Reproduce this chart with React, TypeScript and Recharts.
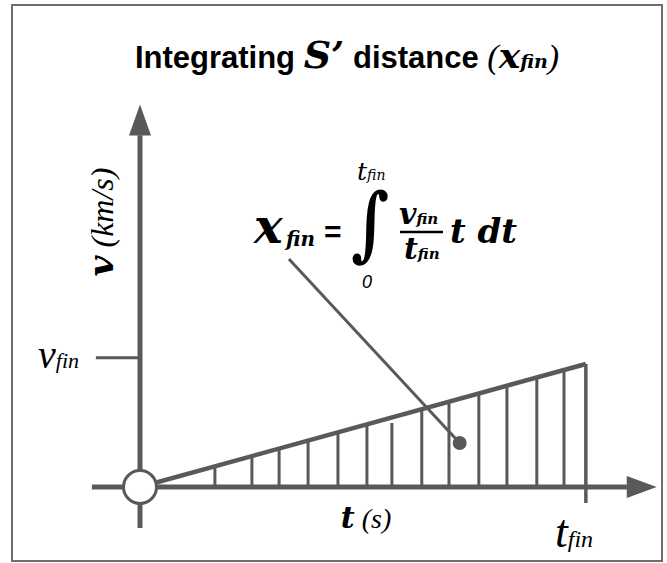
import React from 'react';
import { ComposedChart, Line, XAxis, YAxis, ReferenceLine, ReferenceDot } from 'recharts';

// Diagram values (t in units with t_fin = 10, v in units with v_fin = 10)
const hypotenuse = [
  { t: 0, v: 0 },
  { t: 10, v: 10 },
];
const hatchT = [1.68, 2.51, 3.12, 3.77, 4.44, 5.09, 5.65, 6.32, 6.93, 7.6, 8.23, 8.9, 9.51];
const hatchTop = [1.68, 2.51, 3.12, 3.77, 4.44, 5.09, 5.2, 6.32, 6.93, 7.6, 8.23, 8.9, 9.51];
const tFin = 10;
const vFin = 10;
const vFinTick = 10.5;
const xAxisRange = [-1.08, 10.92];
const xArrowTip = 11.59;
const yAxisRange = [-3.33, 28.6];
const yArrowTip = 31.1;
const tFinTickBottom = -1.3;
const vFinTickStart = -0.99;
const leaderStart = { t: 3.34, v: 18.54 };
const leaderEnd = { t: 7.17, v: 3.58 };

const C = '#595959';
const W = 667;
const H = 563;

const ArrowRight = (props: any) => {
  const { cx, cy } = props;
  return <polygon points={`${cx},${cy} ${cx - 30},${cy - 11} ${cx - 30},${cy + 11}`} fill={C} />;
};
const ArrowUp = (props: any) => {
  const { cx, cy } = props;
  return <polygon points={`${cx},${cy} ${cx - 11},${cy + 31} ${cx + 11},${cy + 31}`} fill={C} />;
};
const OriginCircle = (props: any) => {
  const { cx, cy } = props;
  return <circle cx={cx} cy={cy} r={16.5} fill="#fff" stroke={C} strokeWidth={3} />;
};
const BigDot = (props: any) => {
  const { cx, cy } = props;
  return <circle cx={cx} cy={cy} r={7} fill={C} />;
};

const mathBI = { fontFamily: '"DejaVu Serif", serif', fontWeight: 700, fontStyle: 'italic' } as const;
const mathI = { fontFamily: '"DejaVu Serif", serif', fontStyle: 'italic' } as const;
const serifI = { fontFamily: '"Liberation Serif", serif', fontStyle: 'italic' } as const;
const sansB = { fontFamily: '"Liberation Sans", Arial, sans-serif', fontWeight: 700 } as const;

export default function App() {
  return (
    <div style={{ position: 'absolute', left: 0, top: 0, width: W, height: H, background: '#fff' }}>
      <ComposedChart width={W} height={H} data={hypotenuse} margin={{ top: 0, right: 0, bottom: 0, left: 0 }}>
        <XAxis dataKey="t" type="number" domain={[-3.14, 11.82]} hide allowDataOverflow />
        <YAxis type="number" domain={[-6.18, 39.59]} hide allowDataOverflow />
        <Line dataKey="v" stroke={C} strokeWidth={4.5} dot={false} activeDot={false} isAnimationActive={false} />
        <ReferenceLine segment={[{ x: xAxisRange[0], y: 0 }, { x: xAxisRange[1], y: 0 }]} stroke={C} strokeWidth={5} ifOverflow="visible" />
        <ReferenceLine segment={[{ x: 0, y: yAxisRange[0] }, { x: 0, y: yAxisRange[1] }]} stroke={C} strokeWidth={5} ifOverflow="visible" />
        <ReferenceDot x={xArrowTip} y={0} r={1} shape={ArrowRight} ifOverflow="visible" />
        <ReferenceDot x={0} y={yArrowTip} r={1} shape={ArrowUp} ifOverflow="visible" />
        <ReferenceLine segment={[{ x: vFinTickStart, y: vFinTick }, { x: 0, y: vFinTick }]} stroke={C} strokeWidth={3} ifOverflow="visible" />
        {hatchT.map((t, i) => (
          <ReferenceLine key={i} segment={[{ x: t, y: 0 }, { x: t, y: hatchTop[i] }]} stroke={C} strokeWidth={3} ifOverflow="visible" />
        ))}
        <ReferenceLine segment={[{ x: tFin, y: tFinTickBottom }, { x: tFin, y: vFin }]} stroke={C} strokeWidth={3.5} ifOverflow="visible" />
        <ReferenceLine segment={[{ x: leaderStart.t, y: leaderStart.v }, { x: leaderEnd.t, y: leaderEnd.v }]} stroke={C} strokeWidth={3} ifOverflow="visible" />
        <ReferenceDot x={leaderEnd.t} y={leaderEnd.v} r={7} shape={BigDot} ifOverflow="visible" />
        <ReferenceDot x={0} y={0} r={16} shape={OriginCircle} ifOverflow="visible" />
      </ComposedChart>
      <svg width={W} height={H} style={{ position: 'absolute', left: 0, top: 0, pointerEvents: 'none' }}>
        <rect x={12} y={5} width={650} height={556} fill="none" stroke="#6e6e6e" strokeWidth={2} />
        {/* Title */}
        <text x={347} y={68} textAnchor="middle" fill="#000">
          <tspan {...sansB} fontSize={31}>Integrating </tspan>
          <tspan {...mathBI} fontSize={38}>S’</tspan>
          <tspan {...sansB} fontSize={31}> distance </tspan>
          <tspan {...serifI} fontSize={34}>(</tspan>
          <tspan {...mathBI} fontSize={36}>x</tspan>
          <tspan {...mathBI} fontSize={19}>fin</tspan>
          <tspan {...serifI} fontSize={34}>)</tspan>
        </text>
        {/* Formula */}
        <text x={254} y={243} {...mathBI} fontSize={48} fill="#000">x</text>
        <text x={286} y={246} {...mathBI} fontSize={20} fill="#000">fin</text>
        <text x={324} y={242} {...sansB} fontSize={30} fill="#000">=</text>
        <text transform="translate(351,251) scale(1.1,1.35)" fontFamily='"DejaVu Serif", serif' fontWeight={700} fontSize={60} fill="#000">∫</text>
        <text x={357} y={180} {...mathI} fontSize={25} fill="#000">t<tspan fontSize={14}>fin</tspan></text>
        <text x={362} y={288} fontFamily='"Liberation Sans", sans-serif' fontStyle="italic" fontSize={18} fill="#000">0</text>
        <text x={399} y={224} {...mathBI} fontSize={30} fill="#000">v<tspan fontSize={15}>fin</tspan></text>
        <line x1={400} x2={443} y1={232} y2={232} stroke="#000" strokeWidth={2.5} />
        <text x={404} y={259} {...mathBI} fontSize={30} fill="#000">t<tspan fontSize={15}>fin</tspan></text>
        <text x={450} y={243} {...mathBI} fontSize={34} fill="#000">t dt</text>
        {/* Y label */}
        <text transform="translate(113,222) rotate(-90)" textAnchor="middle" fill="#000">
          <tspan {...mathBI} fontSize={36}>v</tspan>
          <tspan {...serifI} fontSize={32}> (km/s)</tspan>
        </text>
        {/* X label */}
        <text x={366} y={528} textAnchor="middle" fill="#000">
          <tspan {...mathBI} fontSize={30}>t</tspan>
          <tspan {...serifI} fontSize={28}> (s)</tspan>
        </text>
        {/* t_fin */}
        <text x={555} y={547} {...serifI} fontSize={46} fill="#000">t<tspan fontSize={24}>fin</tspan></text>
        {/* v_fin */}
        <text x={38} y={368} {...serifI} fontSize={40} fill="#000">v<tspan fontSize={22}>fin</tspan></text>
      </svg>
    </div>
  );
}
